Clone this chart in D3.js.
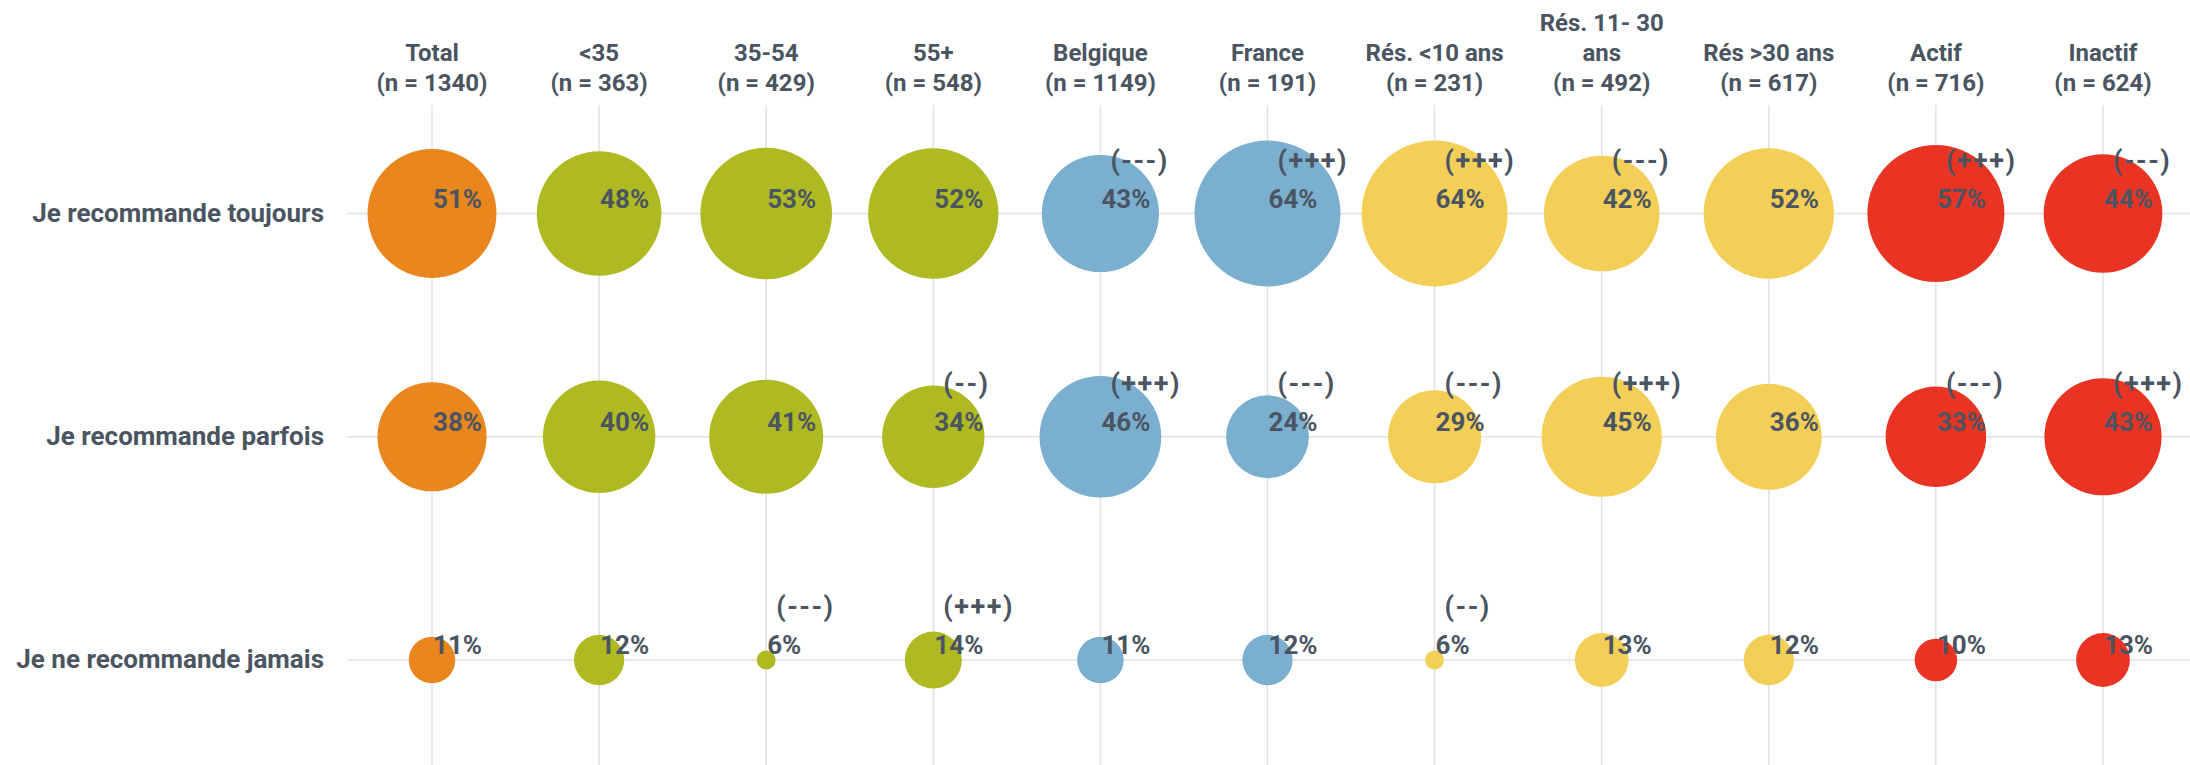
<!DOCTYPE html>
<html>
<head>
<meta charset="utf-8">
<script src="https://cdn.jsdelivr.net/npm/d3@7"></script>
<style>
  body { margin: 0; background: #fff; }
  svg text { font-family: Roboto, "Liberation Sans", sans-serif; font-weight: 700; fill: #4a5561; }
</style>
</head>
<body>
<svg class="bubble-frame"></svg>
<script>
const groups = ["Total", "<35", "35-54", "55+", "Belgique", "France", "Rés. <10 ans", "Rés. 11- 30 ans", "Rés >30 ans", "Actif", "Inactif"];
const sampleSizes = [1340, 363, 429, 548, 1149, 191, 231, 492, 617, 716, 624];
const answers = ["Je recommande toujours", "Je recommande parfois", "Je ne recommande jamais"];

const toujours = [51, 48, 53, 52, 43, 64, 64, 42, 52, 57, 44];
const parfois = [38, 40, 41, 34, 46, 24, 29, 45, 36, 33, 43];
const jamais = [11, 12, 6, 14, 11, 12, 6, 13, 12, 10, 13];

const sigToujours = ["", "", "", "", "(---)", "(+++)", "(+++)", "(---)", "", "(+++)", "(---)"];
const sigParfois = ["", "", "", "(--)", "(+++)", "(---)", "(---)", "(+++)", "", "(---)", "(+++)"];
const sigJamais = ["", "", "(---)", "(+++)", "", "", "(--)", "", "", "", ""];

const colors = ["#e9861e", "#afba22", "#afba22", "#afba22", "#7aafcf", "#7aafcf",
  "#f3cf58", "#f3cf58", "#f3cf58", "#e93424", "#e93424"];

const seriesValues = [toujours, parfois, jamais];
const seriesSig = [sigToujours, sigParfois, sigJamais];

// one record per bubble
const cells = [];
answers.forEach((a, r) => {
  groups.forEach((g, c) => {
    cells.push({ answer: a, group: g, value: seriesValues[r][c], sig: seriesSig[r][c] });
  });
});

const width = 2190, height = 765;

const svg = d3.select(".bubble-frame")
  .attr("width", width)
  .attr("height", height);

const xScale = d3.scalePoint().domain(groups).range([432, 2103]);
const yScale = d3.scalePoint().domain(answers).range([213.5, 660]);
const rScale = d3.scaleRadial().domain([5, 64]).range([0, 73]);
const colorScale = d3.scaleOrdinal().domain(groups).range(colors);

// grid
svg.append("g").selectAll("line")
  .data(groups)
  .enter().append("line")
  .attr("x1", d => xScale(d)).attr("x2", d => xScale(d))
  .attr("y1", 105).attr("y2", height)
  .attr("stroke", "#e2e2e6").attr("stroke-width", 1.5);

svg.append("g").selectAll("line")
  .data(answers)
  .enter().append("line")
  .attr("x1", 347).attr("x2", width)
  .attr("y1", d => yScale(d)).attr("y2", d => yScale(d))
  .attr("stroke", "#e2e2e6").attr("stroke-width", 1.5);

// column headers
const headers = svg.append("g").selectAll("text")
  .data(groups)
  .enter().append("text")
  .attr("text-anchor", "middle")
  .style("font-size", "24px")
  .attr("x", d => xScale(d))
  .attr("y", 91)
  .text(d => d);

headers.each(function(d, i) {
  const text = d3.select(this);
  const cx = xScale(d);
  let lines = [d];
  text.text(d);
  if (this.getComputedTextLength() > 150) {
    const words = d.split(/\s+/);
    lines = [words.slice(0, -1).join(" "), words[words.length - 1]];
  }
  lines.push("(n = " + sampleSizes[i] + ")");
  text.text(null);
  lines.forEach((l, k) => {
    text.append("tspan")
      .attr("x", cx)
      .attr("y", 91 - (lines.length - 1 - k) * 30)
      .text(l);
  });
});

// row labels
svg.append("g").selectAll("text")
  .data(answers)
  .enter().append("text")
  .attr("text-anchor", "end")
  .style("font-size", "26px")
  .attr("x", 324)
  .attr("y", d => yScale(d) + 8)
  .text(d => d);

// bubbles
svg.append("g").selectAll("circle")
  .data(cells)
  .enter().append("circle")
  .attr("cx", d => xScale(d.group))
  .attr("cy", d => yScale(d.answer))
  .attr("r", d => rScale(d.value))
  .attr("fill", d => colorScale(d.group));

// value labels
svg.append("g").selectAll("text")
  .data(cells)
  .enter().append("text")
  .style("font-size", "26px")
  .attr("x", d => xScale(d.group) + 1)
  .attr("y", d => yScale(d.answer) - 6)
  .text(d => d.value + "%");

// significance markers
svg.append("g").selectAll("text")
  .data(cells.filter(d => d.sig))
  .enter().append("text")
  .style("font-size", "27px")
  .attr("letter-spacing", "1.5px")
  .attr("x", d => xScale(d.group) + 10)
  .attr("y", d => yScale(d.answer) - 44)
  .text(d => d.sig);
</script>
</body>
</html>
